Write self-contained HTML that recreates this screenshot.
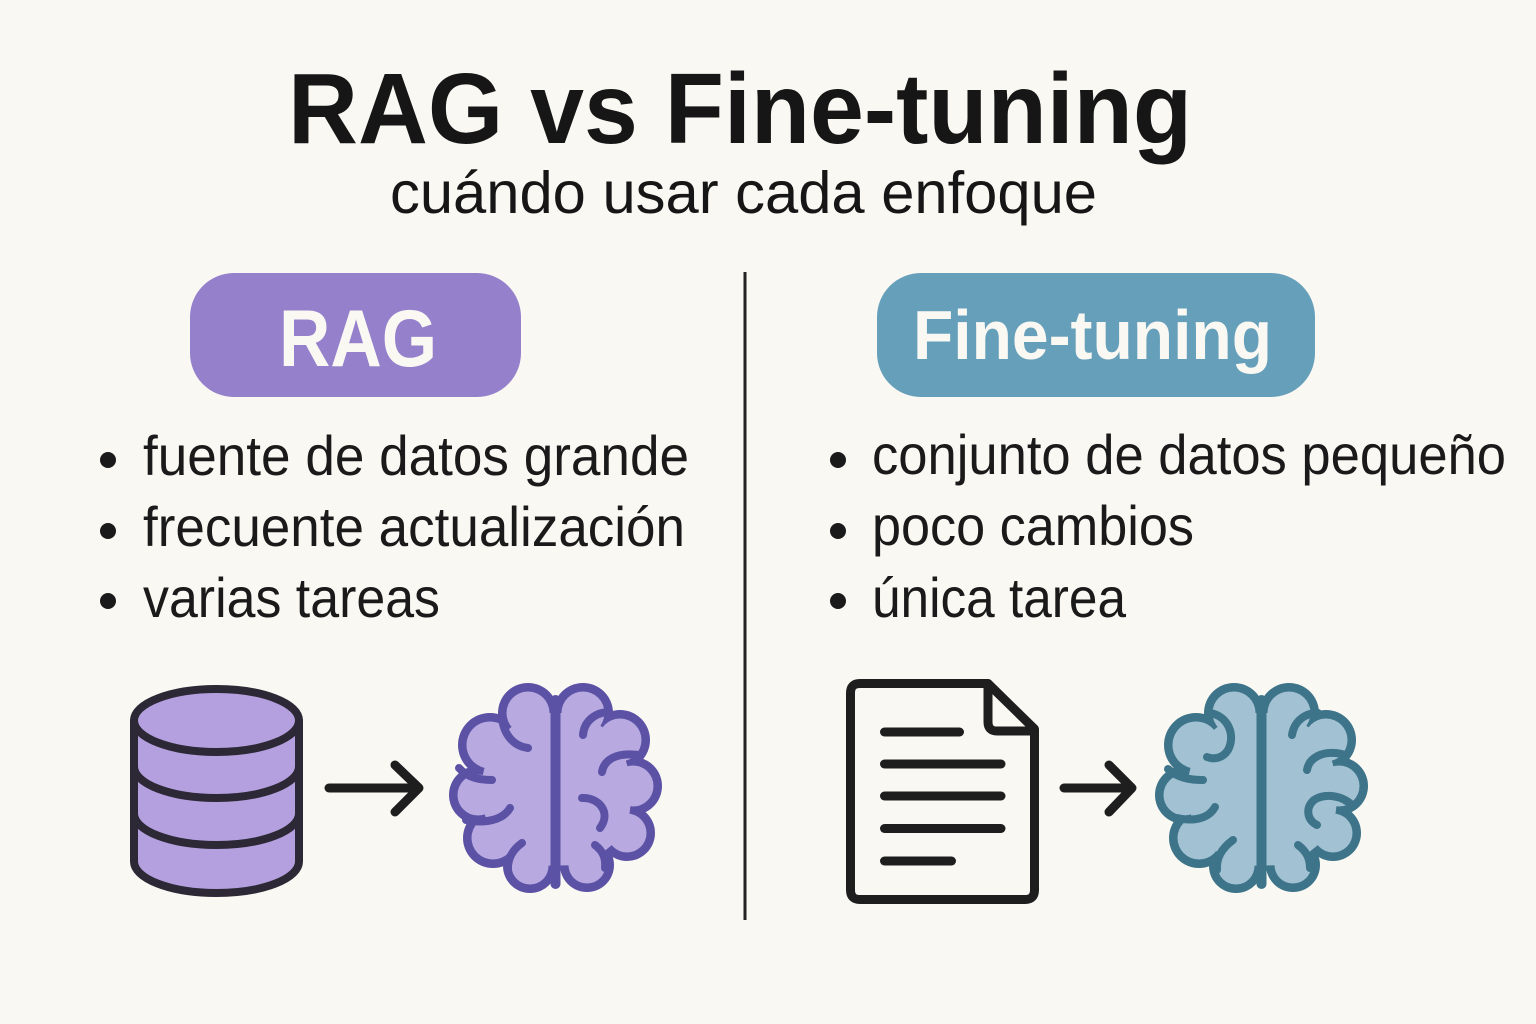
<!DOCTYPE html>
<html>
<head>
<meta charset="utf-8">
<style>
  html,body{margin:0;padding:0;background:#faf8f3;}
  body{width:1536px;height:1024px;overflow:hidden;}
  svg{display:block;}
  text{font-family:"Liberation Sans", "DejaVu Sans", sans-serif;}
</style>
</head>
<body>
<svg width="1536" height="1024" viewBox="0 0 1536 1024" xmlns="http://www.w3.org/2000/svg">
  <rect x="0" y="0" width="1536" height="1024" fill="#faf8f3"/>

  <!-- Title -->
  <text x="288" y="143" font-size="100" font-weight="bold" fill="#161616" textLength="904" lengthAdjust="spacingAndGlyphs">RAG vs Fine-tuning</text>
  <text x="390" y="213" font-size="59" fill="#161616" textLength="707" lengthAdjust="spacingAndGlyphs">cuándo usar cada enfoque</text>

  <!-- Divider -->
  <line x1="745" y1="272" x2="745" y2="920" stroke="#222" stroke-width="3"/>

  <!-- Pills -->
  <rect x="190" y="273" width="331" height="124" rx="44" ry="44" fill="#9580cb"/>
  <text x="279" y="366" font-size="81" font-weight="bold" fill="#faf8f3" textLength="158" lengthAdjust="spacingAndGlyphs">RAG</text>

  <rect x="877" y="273" width="438" height="124" rx="44" ry="44" fill="#669fb9"/>
  <text x="913" y="359" font-size="70" font-weight="bold" fill="#faf8f3" textLength="359" lengthAdjust="spacingAndGlyphs">Fine-tuning</text>

  <!-- Left bullets -->
  <g fill="#1a1a1a">
    <circle cx="108" cy="460" r="8"/>
    <circle cx="108" cy="531" r="8"/>
    <circle cx="108" cy="601" r="8"/>
    <circle cx="838" cy="460" r="8"/>
    <circle cx="838" cy="531" r="8"/>
    <circle cx="838" cy="601" r="8"/>
  </g>
  <g font-size="56" fill="#1a1a1a">
    <text x="143" y="475" textLength="546" lengthAdjust="spacingAndGlyphs">fuente de datos grande</text>
    <text x="143" y="546" textLength="542" lengthAdjust="spacingAndGlyphs">frecuente actualización</text>
    <text x="143" y="617" textLength="297" lengthAdjust="spacingAndGlyphs">varias tareas</text>
    <text x="872" y="474" textLength="634" lengthAdjust="spacingAndGlyphs">conjunto de datos pequeño</text>
    <text x="872" y="545" textLength="322" lengthAdjust="spacingAndGlyphs">poco cambios</text>
    <text x="872" y="617" textLength="254" lengthAdjust="spacingAndGlyphs">única tarea</text>
  </g>

  <!-- Database -->
  <g stroke="#2c2836" stroke-width="8" fill="#b4a0de" stroke-linejoin="round">
    <path d="M134,720.5 L134,861.5 A82.5,31.5 0 0 0 299,861.5 L299,720.5 Z"/>
    <ellipse cx="216.5" cy="720.5" rx="82.5" ry="31.5"/>
    <path d="M134,766.5 A82.5,31.5 0 0 0 299,766.5" fill="none"/>
    <path d="M134,813.5 A82.5,31.5 0 0 0 299,813.5" fill="none"/>
  </g>

  <!-- Arrows -->
  <g stroke="#1e1e1e" stroke-width="9" stroke-linecap="round" stroke-linejoin="round" fill="none">
    <line x1="329" y1="788" x2="417" y2="788"/>
    <polyline points="395,765 419,788 395,812"/>
    <line x1="1064" y1="788" x2="1130" y2="788"/>
    <polyline points="1109,765 1132,788 1109,812"/>
  </g>

  <!-- Purple brain -->
  <g id="brainP">
    <g fill="#5b52a5">
      <circle cx="528" cy="713" r="30"/>
      <circle cx="490" cy="745" r="32"/>
      <circle cx="478" cy="795" r="29"/>
      <circle cx="493" cy="838" r="30"/>
      <circle cx="530" cy="866" r="27"/>
      <circle cx="583" cy="713" r="30"/>
      <circle cx="620" cy="740" r="30"/>
      <circle cx="633" cy="786" r="29"/>
      <circle cx="627" cy="833" r="28"/>
      <circle cx="587" cy="865" r="27"/>
    </g>
    <g fill="#b8a9e0">
      <circle cx="528" cy="713" r="21.5"/>
      <circle cx="490" cy="745" r="23.5"/>
      <circle cx="478" cy="795" r="20.5"/>
      <circle cx="493" cy="838" r="21.5"/>
      <circle cx="530" cy="866" r="18.5"/>
      <circle cx="583" cy="713" r="21.5"/>
      <circle cx="620" cy="740" r="21.5"/>
      <circle cx="633" cy="786" r="20.5"/>
      <circle cx="627" cy="833" r="19.5"/>
      <circle cx="587" cy="865" r="18.5"/>
      <polygon points="528,713 490,745 478,795 493,838 530,866 587,865 627,833 633,786 620,740 583,713"/>
    </g>
    <line x1="555.5" y1="700" x2="555.5" y2="884" stroke="#5b52a5" stroke-width="10" stroke-linecap="round"/>
    <g fill="none" stroke="#5b52a5" stroke-width="8" stroke-linecap="round">
      <path d="M502,714 C502,732 512,746 528,748"/>
      <path d="M459,768 C467,777 478,780 492,780"/>
      <path d="M466,820 C485,824 503,820 510,808"/>
      <path d="M522,843 C512,850 507,860 508,872"/>
      <path d="M583,735 C584,722 594,713 608,712"/>
      <path d="M602,772 C604,760 616,752 638,755"/>
      <path d="M582,798 C598,797 612,812 600,828"/>
      <path d="M595,845 C603,851 606,858 605,868"/>
    </g>
  </g>

  <!-- Document -->
  <g stroke="#1e1e1e" stroke-width="9" stroke-linejoin="round" stroke-linecap="round" fill="none">
    <path d="M860,683.5 L988,683.5 L1034.5,729 L1034.5,890 Q1034.5,899.5 1025,899.5 L860,899.5 Q850.5,899.5 850.5,890 L850.5,693 Q850.5,683.5 860,683.5 Z" fill="#faf8f3"/>
    <path d="M988,683.5 L988,722 Q988,731 997,731 L1034.5,731"/>
    <line x1="884.5" y1="732" x2="959.5" y2="732"/>
    <line x1="884.5" y1="764" x2="1001" y2="764"/>
    <line x1="884.5" y1="796" x2="1001" y2="796"/>
    <line x1="884.5" y1="828.5" x2="1001" y2="828.5"/>
    <line x1="884.5" y1="861" x2="951.5" y2="861"/>
  </g>

  <!-- Teal brain -->
  <g>
    <g fill="#3d7489" transform="translate(706,0)">
      <circle cx="528" cy="713" r="30"/>
      <circle cx="490" cy="745" r="32"/>
      <circle cx="478" cy="795" r="29"/>
      <circle cx="493" cy="838" r="30"/>
      <circle cx="530" cy="866" r="27"/>
      <circle cx="583" cy="713" r="30"/>
      <circle cx="620" cy="740" r="30"/>
      <circle cx="633" cy="786" r="29"/>
      <circle cx="627" cy="833" r="28"/>
      <circle cx="587" cy="865" r="27"/>
    </g>
    <g fill="#a2c1d2" transform="translate(706,0)">
      <circle cx="528" cy="713" r="21.5"/>
      <circle cx="490" cy="745" r="23.5"/>
      <circle cx="478" cy="795" r="20.5"/>
      <circle cx="493" cy="838" r="21.5"/>
      <circle cx="530" cy="866" r="18.5"/>
      <circle cx="583" cy="713" r="21.5"/>
      <circle cx="620" cy="740" r="21.5"/>
      <circle cx="633" cy="786" r="20.5"/>
      <circle cx="627" cy="833" r="19.5"/>
      <circle cx="587" cy="865" r="18.5"/>
      <polygon points="528,713 490,745 478,795 493,838 530,866 587,865 627,833 633,786 620,740 583,713"/>
    </g>
    <line x1="1261.5" y1="700" x2="1261.5" y2="884" stroke="#3d7489" stroke-width="10" stroke-linecap="round"/>
    <g fill="none" stroke="#3d7489" stroke-width="8" stroke-linecap="round">
      <path d="M1210,713 C1228,716 1236,735 1228,750 C1223,758 1214,760 1207,757"/>
      <path d="M1168,769 C1178,778 1190,780 1203,780"/>
      <path d="M1177,818 C1195,822 1209,818 1215,807"/>
      <path d="M1233,840 C1222,848 1216,858 1217,870"/>
      <path d="M1292,735 C1294,722 1304,713 1318,713"/>
      <path d="M1307,770 C1309,758 1322,750 1342,754"/>
      <path d="M1353,806 C1342,795 1325,793 1314,800 C1305,808 1307,820 1317,825"/>
      <path d="M1298,845 C1306,851 1310,858 1310,868"/>
    </g>
  </g>
</svg>
</body>
</html>
